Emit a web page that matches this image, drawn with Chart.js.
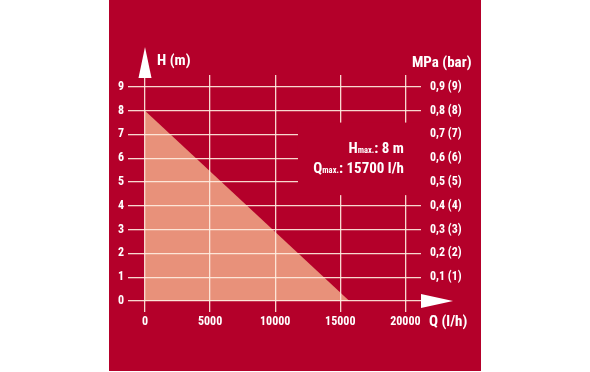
<!DOCTYPE html>
<html>
<head>
<meta charset="utf-8">
<script src="https://cdn.jsdelivr.net/npm/chart.js@4"></script>
<style>
  body { margin: 0; background: #fff; }
  #wrap { width: 590px; height: 372px; position: relative; }
</style>
</head>
<body>
<div id="wrap"><canvas id="pumpChart"></canvas></div>
<script>
// data
const flowTicks = [0, 5000, 10000, 15000, 20000];
const headTicks = [0, 1, 2, 3, 4, 5, 6, 7, 8, 9];
const pressureTicks = [1, 2, 3, 4, 5, 6, 7, 8, 9];
const pressureLabels = ['0,1 (1)', '0,2 (2)', '0,3 (3)', '0,4 (4)', '0,5 (5)', '0,6 (6)', '0,7 (7)', '0,8 (8)', '0,9 (9)'];
const curveFlow = [0, 15700];
const curveHead = [8, 0];

const RED = '#b4002a';
const FILL = '#e8917a';
const GRID = 'rgba(255,238,225,0.9)';
const FONT = "'Roboto Condensed', 'DejaVu Sans Condensed', sans-serif";

const bgPlugin = {
  id: 'bg',
  beforeDraw(chart) {
    const c = chart.ctx;
    c.save();
    c.fillStyle = '#fff';
    c.fillRect(0, 0, chart.width, chart.height);
    c.fillStyle = RED;
    c.fillRect(109, 0, 372, 371);
    c.restore();
  }
};

const decoPlugin = {
  id: 'deco',
  afterDraw(chart) {
    const c = chart.ctx;
    const x = chart.scales.x, y = chart.scales.y;
    const area = chart.chartArea;
    c.save();

    // clear grid behind the Hmax / Qmax box
    c.fillStyle = RED;
    const bx = x.getPixelForValue(11750);
    const by = y.getPixelForValue(7.5);
    c.fillRect(bx, by, area.right + 2 - bx, y.getPixelForValue(4.45) - by);

    // arrows
    c.fillStyle = '#fff';
    const x0 = x.getPixelForValue(0), y0 = y.getPixelForValue(0);
    c.beginPath();
    c.moveTo(x0 - 6.5, area.top + 3);
    c.lineTo(x0 + 6.5, area.top + 3);
    c.lineTo(x0, area.top - 28);
    c.closePath();
    c.fill();
    c.beginPath();
    c.moveTo(area.right, y0 - 7);
    c.lineTo(area.right, y0 + 7);
    c.lineTo(area.right + 32, y0);
    c.closePath();
    c.fill();

    // axis titles
    c.textBaseline = 'alphabetic';
    c.font = 'bold 15px ' + FONT;
    c.textAlign = 'left';
    c.fillText('H (m)', 157, 65);
    c.fillText('MPa (bar)', 412, 67);
    c.fillText('Q (l/h)', 429, 326);

    // Hmax / Qmax note, right aligned
    const lines = [['H', 'max.', ': 8 m', 153], ['Q', 'max.', ': 15700 l/h', 173]];
    lines.forEach(([a, sub, b, base]) => {
      c.font = 'bold 15px ' + FONT;
      const wa = c.measureText(a).width, wb = c.measureText(b).width;
      c.font = 'bold 8.5px ' + FONT;
      const ws = c.measureText(sub).width;
      const px = 404 - wa - ws - wb;
      c.font = 'bold 15px ' + FONT;
      c.fillText(a, px, base);
      c.font = 'bold 8.5px ' + FONT;
      c.fillText(sub, px + wa, base);
      c.font = 'bold 15px ' + FONT;
      c.fillText(b, px + wa + ws, base);
    });
    c.restore();
  }
};

new Chart(document.getElementById('pumpChart'), {
  type: 'line',
  data: {
    datasets: [{
      data: curveFlow.map((q, i) => ({ x: q, y: curveHead[i] })),
      fill: 'origin',
      backgroundColor: FILL,
      borderWidth: 0,
      pointRadius: 0
    }]
  },
  options: {
    responsive: true,
    maintainAspectRatio: false,
    animation: false,
    layout: { padding: { top: 75, left: 0, right: 0, bottom: 0 } },
    plugins: { legend: { display: false }, tooltip: { enabled: false } },
    scales: {
      x: {
        type: 'linear',
        min: 0,
        max: 21200,
        afterBuildTicks: s => { s.ticks = flowTicks.map(v => ({ value: v })); },
        afterFit: s => { s.height = 71; },
        grid: { color: GRID, lineWidth: 1.3, tickLength: 11, z: 1 },
        border: { display: false },
        ticks: {
          color: '#fff',
          padding: 3,
          maxRotation: 0,
          callback: v => String(v),
          font: { family: FONT, size: 12, weight: 'bold' }
        }
      },
      y: {
        min: 0,
        max: 9.5,
        afterBuildTicks: s => { s.ticks = headTicks.map(v => ({ value: v })); },
        afterFit: s => { s.width = 145; },
        grid: { color: GRID, lineWidth: 1.3, tickLength: 17, z: 1 },
        border: { display: false },
        ticks: { color: '#fff', padding: 4, font: { family: FONT, size: 12, weight: 'bold' } }
      },
      y2: {
        position: 'right',
        min: 0,
        max: 9.5,
        afterBuildTicks: s => { s.ticks = pressureTicks.map(v => ({ value: v })); },
        afterFit: s => { s.width = 169; },
        grid: { display: false, drawTicks: false },
        border: { display: false },
        ticks: {
          color: '#fff',
          padding: 9,
          callback: v => pressureLabels[pressureTicks.indexOf(v)],
          font: { family: FONT, size: 12, weight: 'bold' }
        }
      }
    }
  },
  plugins: [bgPlugin, decoPlugin]
});
</script>
</body>
</html>
